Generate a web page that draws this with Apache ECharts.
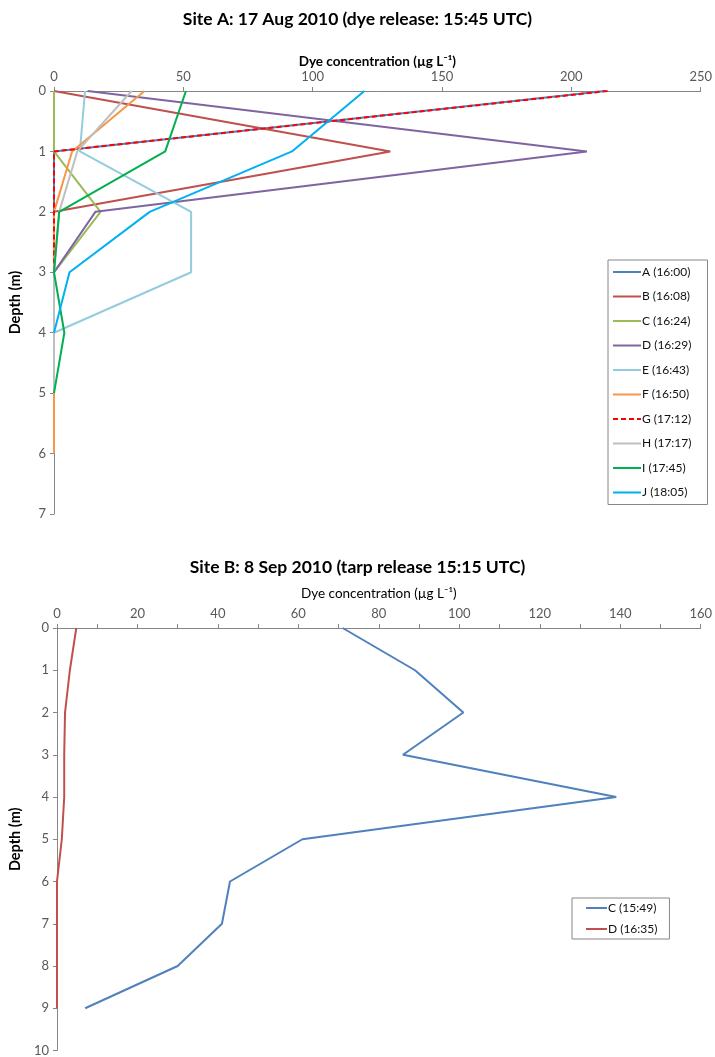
<!DOCTYPE html>
<html>
<head>
<meta charset="utf-8">
<script src="https://cdn.jsdelivr.net/npm/echarts@6/dist/echarts.min.js"></script>
<style>
html,body{margin:0;padding:0;background:#fff;}
#chart{width:715px;height:1057px;}
</style>
</head>
<body>
<div id="chart"></div>
<script>
// ---------- Site A data (depth index = metres) ----------
const siteANames = ['A (16:00)','B (16:08)','C (16:24)','D (16:29)','E (16:43)','F (16:50)','G (17:12)','H (17:17)','I (17:45)','J (18:05)'];
const siteA_A = [213, 0, 0, 0];
const siteA_B = [0, 130, 0];
const siteA_C = [0, 0, 18, 0];
const siteA_D = [13, 206, 16, 0];
const siteA_E = [12, 10, 53, 53, 0];
const siteA_F = [35, 7, 0, 0, 0, 0, 0];
const siteA_G = [214, 0, 0, 0];
const siteA_H = [30, 9, 2, 0, 0, 0];
const siteA_I = [51, 43, 2, 0, 4, 0];
const siteA_J = [120, 92, 37, 6, 0];
const siteAValues = [siteA_A, siteA_B, siteA_C, siteA_D, siteA_E, siteA_F, siteA_G, siteA_H, siteA_I, siteA_J];

// ---------- Site B data ----------
const siteBNames = ['C (15:49)','D (16:35)'];
const siteB_C = [71, 89, 101, 86, 139, 61, 43, 41, 30, 7];
const siteB_D = [4.8, 3.2, 2, 1.8, 1.8, 1.2, 0, 0, 0, 0];
const siteBValues = [siteB_C, siteB_D];

// ---------- styles ----------
const colorsA = ['#4F81BD','#C0504D','#9BBB59','#8064A2','#93CDDD','#F79646','#FF0000','#BFBFBF','#00B050','#00B0F0'];
const colorsB = ['#4F81BD','#C0504D'];
const FONT = 'Lato, "Open Sans", sans-serif';

function toPairs(arr){ return arr.map((v,i)=>[v,i]); }

const series = [];
siteAValues.forEach((vals, k) => {
  series.push({
    name: siteANames[k], type: 'line', xAxisIndex: 0, yAxisIndex: 0,
    data: toPairs(vals), symbol: 'none', showSymbol: false,
    lineStyle: { color: colorsA[k], width: 2, type: k === 6 ? [5,3] : 'solid' },
    itemStyle: { color: colorsA[k] },
    z: 2 + k
  });
});
siteBValues.forEach((vals, k) => {
  series.push({
    name: siteBNames[k], type: 'line', xAxisIndex: 1, yAxisIndex: 1,
    data: toPairs(vals), symbol: 'none', showSymbol: false,
    lineStyle: { color: colorsB[k], width: 2 },
    itemStyle: { color: colorsB[k] }
  });
});

const axisLineStyle = { show: true, onZero: false, lineStyle: { color: '#868686', width: 1 } };
const tickStyle = { show: true, length: 4, lineStyle: { color: '#868686' } };
const labelStyle = { color: '#595959', fontSize: 13, fontFamily: FONT };

const option = {
  animation: false,
  backgroundColor: '#fff',
  title: [
    { text: 'Site A: 17 Aug 2010 (dye release: 15:45 UTC)', left: 'center', top: 5,
      textStyle: { fontFamily: FONT, fontSize: 17.5, fontWeight: 'bold', color: '#000' } },
    { text: 'Site B: 8 Sep 2010 (tarp release 15:15 UTC)', left: 'center', top: 553,
      textStyle: { fontFamily: FONT, fontSize: 17.5, fontWeight: 'bold', color: '#000' } }
  ],
  grid: [
    { left: 53, right: 10, top: 91, height: 423 },
    { left: 55, right: 9, top: 628, height: 423 }
  ],
  xAxis: [
    { gridIndex: 0, type: 'value', position: 'top', min: 0, max: 250, interval: 50,
      name: 'Dye concentration (µg L⁻¹)', nameLocation: 'middle', nameGap: 22,
      nameTextStyle: { fontFamily: FONT, fontSize: 13.5, fontWeight: 'bold', color: '#000' },
      axisLine: axisLineStyle, axisTick: tickStyle, axisLabel: Object.assign({ margin: 8 }, labelStyle),
      splitLine: { show: false } },
    { gridIndex: 1, type: 'value', position: 'top', min: 0, max: 160, interval: 10,
      name: 'Dye concentration (µg L⁻¹)', nameLocation: 'middle', nameGap: 27,
      nameTextStyle: { fontFamily: FONT, fontSize: 13.5, color: '#000' },
      axisLine: axisLineStyle, axisTick: tickStyle,
      axisLabel: Object.assign({ margin: 8, formatter: v => (v % 20 === 0 ? String(v) : '') }, labelStyle),
      splitLine: { show: false } }
  ],
  yAxis: [
    { gridIndex: 0, type: 'value', inverse: true, min: 0, max: 7, interval: 1,
      name: 'Depth (m)', nameLocation: 'middle', nameGap: 31, nameRotate: 90,
      nameTextStyle: { fontFamily: FONT, fontSize: 14.5, fontWeight: 'bold', color: '#000' },
      axisLine: axisLineStyle, axisTick: tickStyle, axisLabel: Object.assign({ margin: 8 }, labelStyle),
      splitLine: { show: false } },
    { gridIndex: 1, type: 'value', inverse: true, min: 0, max: 10, interval: 1,
      name: 'Depth (m)', nameLocation: 'middle', nameGap: 33, nameRotate: 90,
      nameTextStyle: { fontFamily: FONT, fontSize: 14.5, fontWeight: 'bold', color: '#000' },
      axisLine: axisLineStyle, axisTick: tickStyle, axisLabel: Object.assign({ margin: 8 }, labelStyle),
      splitLine: { show: false } }
  ],
  legend: [
    { data: siteANames, orient: 'vertical', left: 608, top: 260,
      itemWidth: 28, itemHeight: 14, itemGap: 12.5,
      itemStyle: { opacity: 0 },
      padding: [6, 16, 6, 4], borderColor: '#868686', borderWidth: 1,
      textStyle: { fontFamily: FONT, fontSize: 12, color: '#111', padding: [0,0,0,-4] } },
    { data: siteBNames, orient: 'vertical', left: 572, top: 898,
      itemWidth: 21, itemHeight: 14, itemGap: 9,
      itemStyle: { opacity: 0 },
      padding: [4, 12, 4, 13], borderColor: '#868686', borderWidth: 1,
      textStyle: { fontFamily: FONT, fontSize: 12, color: '#111', padding: [0,0,0,-4] } }
  ],
  series: series
};

const chart = echarts.init(document.getElementById('chart'), null, { renderer: 'canvas' });
chart.setOption(option);
</script>
</body>
</html>
